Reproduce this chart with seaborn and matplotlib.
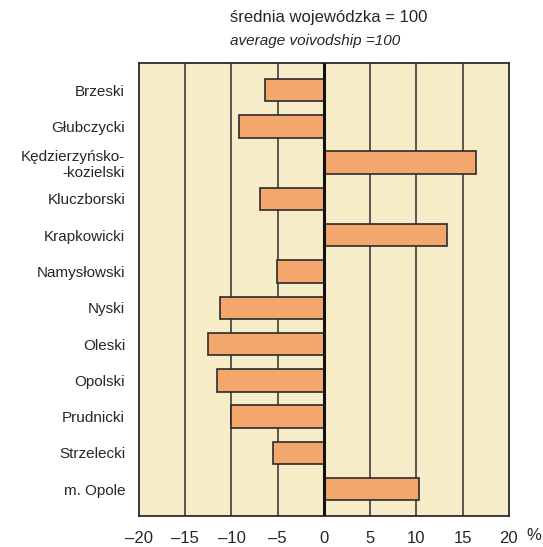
import pandas as pd
import matplotlib
matplotlib.use("Agg")
import matplotlib.pyplot as plt
import seaborn as sns

powiaty = ["Brzeski", "Głubczycki", "Kędzierzyńsko-\n-kozielski", "Kluczborski",
           "Krapkowicki", "Namysłowski", "Nyski", "Oleski", "Opolski",
           "Prudnicki", "Strzelecki", "m. Opole"]
values = [-6.4, -9.2, 16.5, -6.9, 13.3, -5.1, -11.2, -12.5, -11.6, -10.1, -5.5, 10.3]
xticks = [-20, -15, -10, -5, 0, 5, 10, 15, 20]
xticklabels = ["\u201320", "\u201315", "\u201310", "\u20135", "0", "5", "10", "15", "20"]

df = pd.DataFrame({"powiat": powiaty, "value": values})

sns.set_style("white")
plt.rcParams['font.family'] = ['Liberation Sans', 'DejaVu Sans']

fig = plt.figure(figsize=(5.43, 5.47), dpi=100)
ax = fig.add_axes([0.256, 0.0567, 0.681, 0.829])
ax.set_facecolor("#F6EDC8")

for x in [-15, -10, -5, 5, 10, 15]:
    ax.axvline(x, color="#4a4a4a", lw=1.3, zorder=0)

sns.barplot(data=df, x="value", y="powiat", orient="h", color="#F4A76D",
            edgecolor="#2b2b2b", linewidth=1.2, width=0.62, saturation=1, ax=ax, zorder=2)
ax.axvline(0, color="#111111", lw=2.2, zorder=3)

ax.set_xlim(-20, 20)
ax.set_ylim(11.74, -0.76)
ax.set_xticks(xticks)
ax.set_xticklabels(xticklabels, fontsize=12)
ax.tick_params(axis="x", length=0, pad=11, labelsize=12)
ax.tick_params(axis="y", length=0, pad=10, labelsize=11)
for lbl in ax.get_yticklabels():
    lbl.set_multialignment("right")
ax.set_xlabel("")
ax.set_ylabel("")
for s in ax.spines.values():
    s.set_color("#2b2b2b")
    s.set_linewidth(1.3)

fig.text(0.997, 0.008, "%", fontsize=12, ha="right", va="bottom")
fig.text(0.424, 0.955, "średnia wojewódzka = 100", fontsize=12, ha="left", va="bottom")
fig.text(0.424, 0.912, "average voivodship =100", fontsize=11, style="italic", ha="left", va="bottom")

fig.savefig("out.png", dpi=100)
